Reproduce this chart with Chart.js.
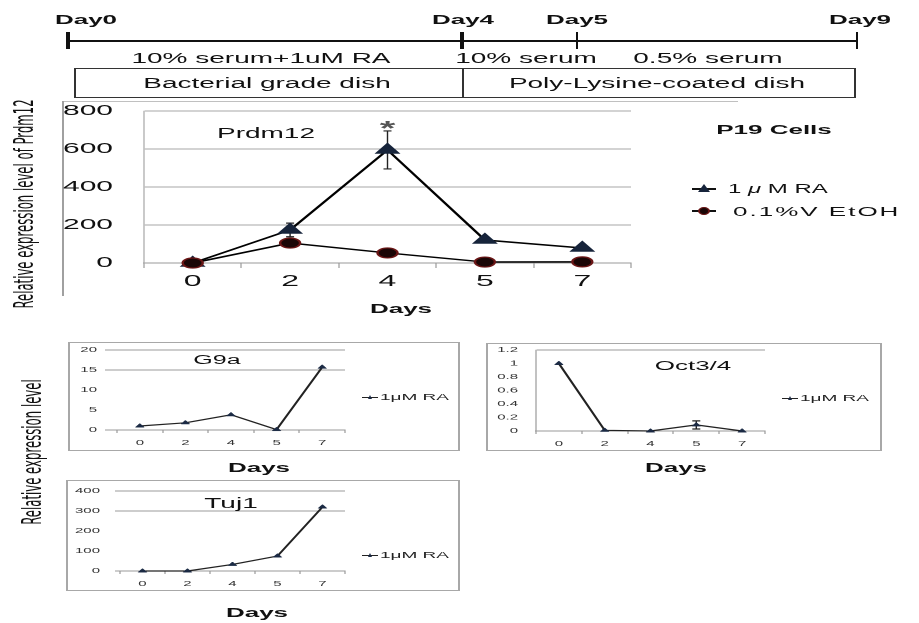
<!DOCTYPE html>
<html>
<head>
<meta charset="utf-8">
<script src="https://cdn.jsdelivr.net/npm/chart.js@4.4.1/dist/chart.umd.min.js"></script>
<style>
  html, body { margin: 0; padding: 0; background: #fff; overflow: hidden; }
  /* the source figure is stretched twice as wide as tall, so the page is laid out at half width and stretched */
  #page { position: absolute; left: 0; top: 0; width: 460px; height: 623px;
          transform: scaleX(2); transform-origin: 0 0;
          font-family: 'Liberation Sans', Arial, sans-serif; color: #111; }
  #page > * { position: absolute; box-sizing: border-box; }
  .t { white-space: nowrap; line-height: 1; transform: translate(-50%, -50%); }
  .tl { white-space: nowrap; line-height: 1; transform: translate(0, -50%); }
  .rot { white-space: nowrap; line-height: 1; font-size: 13px;
         font-family: 'Liberation Sans Narrow', 'DejaVu Sans Condensed', sans-serif;
         transform: translate(-50%, -50%) rotate(-90deg); }
</style>
</head>
<body>
<div id="page"></div>
<script>
const S = 2;

const days = ['0', '2', '4', '5', '7'];

// Prdm12 in P19 cells
const prdmRA = [0, 174, 595, 121, 79];
const prdmRAErr = [null, 36, 100, null, null];
const prdmEtOH = [0, 105, 53, 5, 6];
const prdmStar = ['', '', '*', '', ''];

// markers, 1uM RA only
const g9aRA = [1, 1.8, 3.8, 0.1, 15.7];
const octRA = [1, 0.01, 0, 0.09, 0];
const octErr = [null, null, null, 0.06, null];
const tujRA = [0, 0, 33, 75, 320];

// timeline text
const tlDays = ['Day0', 'Day4', 'Day5', 'Day9'];
const tlMedia = ['10% serum+1uM RA', '10% serum', '0.5% serum'];
const tlDishes = ['Bacterial grade dish', 'Poly-Lysine-coated dish'];

Chart.defaults.font.family = "'Liberation Sans', Arial, sans-serif";

const page = document.getElementById('page');

// all x values below are in picture pixels, divided by S when placed
function box(x0, y0, x1, y1, css) {
  const d = document.createElement('div');
  d.style.cssText = 'left:' + x0 / S + 'px;top:' + y0 + 'px;width:' + (x1 - x0) / S + 'px;height:' + (y1 - y0) + 'px;' + (css || '');
  page.appendChild(d);
  return d;
}

function txt(s, x, y, css, cls) {
  const d = document.createElement('div');
  d.className = cls || 't';
  d.innerHTML = s;
  d.style.cssText = 'left:' + x / S + 'px;top:' + y + 'px;' + (css || '');
  page.appendChild(d);
  return d;
}

function tri(cx, cy, half, h, col) {
  const d = document.createElement('div');
  d.style.cssText = 'left:' + (cx / S - half) + 'px;top:' + (cy - h / 2) + 'px;width:0;height:0;' +
    'border-left:' + half + 'px solid transparent;border-right:' + half + 'px solid transparent;border-bottom:' + h + 'px solid ' + col;
  page.appendChild(d);
}

// ---- timeline ----
box(68, 40.3, 857, 41.8, 'background:#111');
[68, 462, 577, 857].forEach(x => box(x - 1.3, 32, x + 1.3, 49, 'background:#111'));
txt(tlDays[0], 86, 19, 'font-weight:bold;font-size:13px');
txt(tlDays[1], 463, 19, 'font-weight:bold;font-size:13px');
txt(tlDays[2], 577, 19, 'font-weight:bold;font-size:13px');
txt(tlDays[3], 860, 19, 'font-weight:bold;font-size:13px');
txt(tlMedia[0], 261, 58, 'font-size:14px');
txt(tlMedia[1], 526, 58, 'font-size:14px');
txt(tlMedia[2], 708, 58, 'font-size:14px');
box(73, 68, 855, 97.5, 'border:1px solid #333');
box(461.5, 68, 462.5, 97.5, 'background:#333');
txt(tlDishes[0], 267, 83, 'font-size:14px');
txt(tlDishes[1], 657, 83, 'font-size:14px');

// ---- frames ----
box(62.5, 101, 64, 296, 'background:#a0a0a0');
box(63, 100.5, 737, 101.5, 'background:#c0c0c0');
box(67, 342, 459, 451, 'border:1px solid #a8a8a8');
box(485, 343, 881, 451, 'border:1px solid #a8a8a8');
box(66, 480, 459, 591, 'border:1px solid #a8a8a8');

// ---- error bars and significance marks ----
const errorBars = {
  id: 'errorBars',
  beforeDatasetsDraw(chart) {
    const ctx = chart.ctx, xs = chart.scales.x, ys = chart.scales.y;
    chart.data.datasets.forEach(ds => {
      if (!ds.errors) return;
      ctx.save();
      ctx.strokeStyle = '#222';
      ds.errors.forEach((e, i) => {
        if (e == null) return;
        const px = xs.getPixelForValue(i);
        const top = ys.getPixelForValue(ds.data[i] + e);
        const bot = ys.getPixelForValue(ds.data[i] - e);
        ctx.lineWidth = 0.7;
        ctx.beginPath(); ctx.moveTo(px, top); ctx.lineTo(px, bot); ctx.stroke();
        ctx.lineWidth = 1.2;
        ctx.beginPath();
        ctx.moveTo(px - ds.cap, top); ctx.lineTo(px + ds.cap, top);
        ctx.moveTo(px - ds.cap, bot); ctx.lineTo(px + ds.cap, bot);
        ctx.stroke();
      });
      ctx.restore();
    });
  },
  afterDatasetsDraw(chart) {
    const ctx = chart.ctx, xs = chart.scales.x, ys = chart.scales.y;
    chart.data.datasets.forEach(ds => {
      if (!ds.stars) return;
      ctx.save();
      ctx.fillStyle = '#555';
      ctx.font = "bold 20px 'Liberation Sans', Arial, sans-serif";
      ctx.textAlign = 'center';
      ctx.textBaseline = 'alphabetic';
      ds.stars.forEach((s, i) => {
        if (!s) return;
        const top = ys.getPixelForValue(ds.data[i] + (ds.errors[i] || 0));
        ctx.fillText(s, xs.getPixelForValue(i), top + 4);
      });
      ctx.restore();
    });
  }
};

function lineChart(b, a, datasets, yOpt, sz) {
  const w = (b[2] - b[0]) / S, h = b[3] - b[1];
  const c = document.createElement('canvas');
  c.width = w; c.height = h;
  c.style.cssText = 'left:' + b[0] / S + 'px;top:' + b[1] + 'px;width:' + w + 'px;height:' + h + 'px';
  page.appendChild(c);
  const yW = (a[0] - b[0]) / S, xH = b[3] - a[3];
  // fixed axis sizes so the plot area lands where the picture has it
  yOpt.afterFit = s => { s.width = yW; s.paddingTop = 0; s.paddingBottom = 0; };
  if (!yOpt.ticks.callback) yOpt.ticks.callback = v => String(Math.round(v * 10) / 10);
  return new Chart(c, {
    type: 'line',
    data: { labels: days, datasets: datasets },
    options: {
      responsive: false,
      animation: false,
      devicePixelRatio: 2,
      layout: { autoPadding: false, padding: { top: a[1] - b[1], right: (b[2] - a[2]) / S, left: 0, bottom: 0 } },
      plugins: { legend: { display: false }, tooltip: { enabled: false } },
      scales: {
        x: {
          offset: true,
          grid: { offset: true, drawOnChartArea: false, tickLength: sz.xTick, color: '#999', lineWidth: 0.6 },
          border: { color: '#999', width: 1 },
          ticks: { font: { size: sz.font }, color: sz.color, padding: sz.xPad, maxRotation: 0, autoSkip: false },
          afterFit: s => { s.height = xH; s.paddingLeft = 0; s.paddingRight = 0; }
        },
        y: yOpt
      }
    },
    plugins: [errorBars]
  });
}

// ---- Prdm12 ----
lineChart([40, 101, 650, 300], [144, 111, 631, 263], [
  { data: prdmRA, errors: prdmRAErr, stars: prdmStar, cap: 2, order: 1,
    borderColor: '#000', borderWidth: 1.5, pointStyle: 'triangle', pointRadius: 6.5,
    pointBackgroundColor: '#17243b', pointBorderColor: '#17243b', pointBorderWidth: 1, clip: false },
  { data: prdmEtOH, order: 0,
    borderColor: '#000', borderWidth: 1.5, pointStyle: 'circle', pointRadius: 5,
    pointBackgroundColor: '#1a0606', pointBorderColor: '#6a1616', pointBorderWidth: 1.2, clip: false }
], {
  min: 0, max: 800,
  ticks: { stepSize: 200, font: { size: 15 }, color: '#111', padding: 15.5 },
  grid: { color: '#a6a6a6', drawTicks: false },
  border: { display: true, color: '#a6a6a6', width: 0.6 }
}, { font: 16, color: '#111', xTick: 5, xPad: 4 });

txt('Prdm12', 266, 133, 'font-size:14px');
txt('Days', 401, 308, 'font-weight:bold;font-size:13px');
txt('P19 Cells', 774, 129, 'font-weight:bold;font-size:13px');
txt('Relative expression level of Prdm12', 24, 204, '', 'rot');

// legend
box(692, 188.3, 715, 190, 'background:#111');
tri(703, 188, 3, 8, '#17243b');
txt('1 <i>&mu;</i> M RA', 728, 189, 'font-size:12px', 'tl');
box(692, 210.3, 715, 212, 'background:#111');
box(697, 207, 709, 215, 'background:#1a0606;border:1px solid #6a1616;border-radius:50%');
txt('0.1%V EtOH', 733, 211, 'font-size:13px;letter-spacing:1px', 'tl');

// ---- small charts ----
function smallRA(data, errors) {
  return { data: data, errors: errors, cap: 2,
    borderColor: '#222', borderWidth: 1.2, pointStyle: 'triangle', pointRadius: 2.4,
    pointBackgroundColor: '#1b2a44', pointBorderColor: '#1b2a44', pointBorderWidth: 0.5, clip: false };
}
const smallX = { font: 7.5, color: '#333', xTick: 3, xPad: 5.5 };

lineChart([68, 343, 366, 450], [117, 350, 345, 430], [smallRA(g9aRA)], {
  min: 0, max: 20,
  ticks: { stepSize: 5, font: { size: 7.5 }, color: '#333', padding: 4 },
  grid: { tickLength: 6, color: c => (c.tick.value >= 15 || c.tick.value === 0) ? '#9a9a9a' : 'rgba(0,0,0,0)' },
  border: { display: false }
}, smallX);

lineChart([486, 344, 786, 450], [536, 350, 765, 431], [smallRA(octRA, octErr)], {
  min: 0, max: 1.2,
  ticks: { stepSize: 0.2, font: { size: 7.5 }, color: '#333', padding: 9 },
  grid: { drawTicks: false, color: c => c.tick.value > 1.1 ? '#9a9a9a' : 'rgba(0,0,0,0)' },
  border: { display: true, color: '#999', width: 0.6 }
}, smallX);

lineChart([68, 481, 366, 590], [120, 491, 345, 571], [smallRA(tujRA)], {
  min: 0, max: 400,
  ticks: { stepSize: 100, font: { size: 7.5 }, color: '#333', padding: 7.5 },
  grid: { tickLength: 2.5, color: c => (c.tick.value >= 300 || c.tick.value === 0) ? '#9a9a9a' : 'rgba(0,0,0,0)' },
  border: { display: false }
}, smallX);

txt('G9a', 217, 360, 'font-size:12.5px');
txt('Oct3/4', 693, 365, 'font-size:13px');
txt('Tuj1', 231, 503, 'font-size:14px');
txt('Days', 259, 467, 'font-weight:bold;font-size:13px');
txt('Days', 676, 467, 'font-weight:bold;font-size:13px');
txt('Days', 257, 612, 'font-weight:bold;font-size:13px');
txt('Relative expression level', 32, 452, '', 'rot');

// small legends
[[362, 397], [782, 398], [362, 555]].forEach(p => {
  box(p[0], p[1] - 0.5, p[0] + 15, p[1] + 0.6, 'background:#222');
  tri(p[0] + 9, p[1] - 0.3, 1.6, 4, '#1b2a44');
  txt('1&mu;M RA', p[0] + 18, p[1], 'font-size:9.5px;color:#222', 'tl');
});
</script>
</body>
</html>
